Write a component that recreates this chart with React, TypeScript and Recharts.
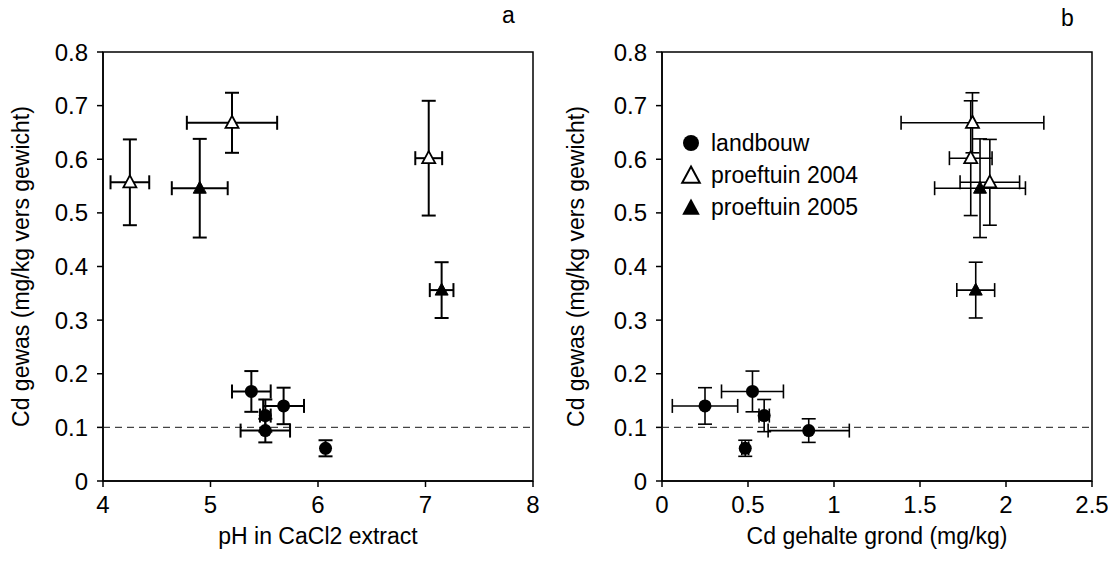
import { ScatterChart, Scatter, XAxis, YAxis, ErrorBar, ReferenceLine, ReferenceArea, Label } from 'recharts';

// panel a: pH in CaCl2 extract
const phLandbouw = [5.38, 5.68, 5.51, 5.51, 6.07];
const phLandbouwErr = [0.18, 0.19, 0.05, 0.23, 0];
const phP2004 = [4.25, 5.2, 7.03];
const phP2004Err = [0.18, 0.42, 0.125];
const phP2005 = [4.9, 7.15];
const phP2005Err = [0.26, 0.11];

// panel b: Cd gehalte grond (same crop values, same order)
const gdLandbouw = [0.526, 0.25, 0.594, 0.853, 0.484];
const gdLandbouwErr = [0.18, 0.19, 0.03, 0.236, 0.02];
const gdP2004 = [1.906, 1.805, 1.795];
const gdP2004Err = [0.173, 0.415, 0.124];
const gdP2005 = [1.849, 1.824];
const gdP2005Err = [0.264, 0.11];

// Cd gewas (y)
const cdLandbouw = [0.167, 0.14, 0.122, 0.094, 0.061];
const cdLandbouwErr = [0.038, 0.034, 0.03, 0.022, 0.015];
const cdP2004 = [0.557, 0.668, 0.602];
const cdP2004Err = [0.08, 0.056, 0.107];
const cdP2005 = [0.546, 0.356];
const cdP2005Err = [0.092, 0.052];

const yTicks = [0, 0.1, 0.2, 0.3, 0.4, 0.5, 0.6, 0.7, 0.8];
const phTicks = [4, 5, 6, 7, 8];
const gdTicks = [0, 0.5, 1, 1.5, 2, 2.5];
const legendNames = ['landbouw', 'proeftuin 2004', 'proeftuin 2005'];

const FONT = '"Liberation Sans", Arial, sans-serif';
const FS = 23;
const TICK_FS = 24;

const build = (xs: number[], xe: number[], ys: number[], ye: number[]) =>
  xs.map((x, i) => ({ x, y: ys[i], ex: xe[i], ey: ye[i] }));

const Dot = (p: any) => <circle cx={p.cx} cy={p.cy} r={6.5} fill="#000" />;
const triPath = (cx: number, cy: number, s = 1) =>
  `M${cx},${cy - 7 * s} L${cx + 6.5 * s},${cy + 5 * s} L${cx - 6.5 * s},${cy + 5 * s} Z`;
const OpenTri = (p: any) => <path d={triPath(p.cx, p.cy)} fill="#fff" stroke="#000" strokeWidth={1.8} />;
const FullTri = (p: any) => <path d={triPath(p.cx, p.cy)} fill="#000" stroke="#000" strokeWidth={1} />;

const yTitle = (cx: number) => (props: any) => {
  const vb = props.viewBox;
  const cy = vb.y + vb.height / 2;
  return (
    <text x={cx} y={cy} transform={`rotate(-90 ${cx} ${cy})`} textAnchor="middle" dominantBaseline="central"
      fontSize={FS} fontFamily={FONT} fill="#000">
      Cd gewas (mg/kg vers gewicht)
    </text>
  );
};

const LegendBox = () => (
  <svg width={200} height={100}>
    <circle cx={15} cy={12} r={8} fill="#000" />
    <text x={35} y={12} dominantBaseline="central" fontSize={FS} fontFamily={FONT}>{legendNames[0]}</text>
    <path d={triPath(15, 45, 1.35)} fill="#fff" stroke="#000" strokeWidth={2} />
    <text x={35} y={44} dominantBaseline="central" fontSize={FS} fontFamily={FONT}>{legendNames[1]}</text>
    <path d={triPath(15, 77, 1.35)} fill="#000" />
    <text x={35} y={76} dominantBaseline="central" fontSize={FS} fontFamily={FONT}>{legendNames[2]}</text>
  </svg>
);

type PanelProps = {
  width: number;
  yAxisWidth: number;
  titleX: number;
  xTicks: number[];
  xDomain: [number, number];
  xTitle: string;
  lb: any[];
  p4: any[];
  p5: any[];
  barWidth: number;
};

const Panel = ({ width, yAxisWidth, titleX, xTicks, xDomain, xTitle, lb, p4, p5, barWidth }: PanelProps) => {
  const series = [
    { name: legendNames[0], data: lb, shape: Dot },
    { name: legendNames[1], data: p4, shape: OpenTri },
    { name: legendNames[2], data: p5, shape: FullTri },
  ];
  return (
    <ScatterChart width={width} height={545} margin={{ top: 44, right: width - yAxisWidth - 430, left: 0, bottom: 0 }}>
      <ReferenceArea x1={xDomain[0]} x2={xDomain[1]} y1={0} y2={0.8} fill="none" stroke="#000" strokeWidth={1.5} />
      <XAxis type="number" dataKey="x" domain={xDomain} ticks={xTicks} interval={0} height={72}
        stroke="#000" strokeWidth={1.5} tickSize={6} tickMargin={9}
        tick={{ fill: '#000', fontSize: TICK_FS, fontFamily: FONT }}>
        <Label value={xTitle} position="insideBottom" offset={9} fill="#000" fontSize={FS} fontFamily={FONT} />
      </XAxis>
      <YAxis type="number" dataKey="y" domain={[0, 0.8]} ticks={yTicks} interval={0} width={yAxisWidth}
        stroke="#000" strokeWidth={1.5} tickSize={6} tickMargin={9}
        tick={{ fill: '#000', fontSize: TICK_FS, fontFamily: FONT }}>
        <Label content={yTitle(titleX)} />
      </YAxis>
      <ReferenceLine y={0.1} stroke="#444" strokeWidth={1.2} strokeDasharray="7 5" />
      {series.map((s) => (
        <Scatter key={s.name} name={s.name} data={s.data} shape={s.shape} isAnimationActive={false}>
          <ErrorBar dataKey="ex" direction="x" width={7} stroke="#000" strokeWidth={barWidth} />
          <ErrorBar dataKey="ey" direction="y" width={7} stroke="#000" strokeWidth={barWidth} />
        </Scatter>
      ))}
    </ScatterChart>
  );
};

export default function App() {
  return (
    <div style={{ position: 'relative', width: 1100, height: 545, fontFamily: FONT, background: '#fff' }}>
      <div style={{ position: 'absolute', left: 0, top: 0 }}>
        <Panel width={545} yAxisWidth={95} titleX={13} xTicks={phTicks} xDomain={[4, 8]} xTitle="pH in CaCl2 extract"
          lb={build(phLandbouw, phLandbouwErr, cdLandbouw, cdLandbouwErr)}
          p4={build(phP2004, phP2004Err, cdP2004, cdP2004Err)}
          p5={build(phP2005, phP2005Err, cdP2005, cdP2005Err)} barWidth={2} />
      </div>
      <div style={{ position: 'absolute', left: 545, top: 0 }}>
        <Panel width={555} yAxisWidth={109} titleX={23} xTicks={gdTicks} xDomain={[0, 2.5]} xTitle="Cd gehalte grond (mg/kg)"
          lb={build(gdLandbouw, gdLandbouwErr, cdLandbouw, cdLandbouwErr)}
          p4={build(gdP2004, gdP2004Err, cdP2004, cdP2004Err)}
          p5={build(gdP2005, gdP2005Err, cdP2005, cdP2005Err)} barWidth={1.6} />
      </div>
      <div style={{ position: 'absolute', left: 668, top: 123 }}>
        <LegendBox />
      </div>
      <div style={{ position: 'absolute', left: 494, top: -4, fontSize: FS, lineHeight: '22px' }}>a</div>
      <div style={{ position: 'absolute', left: 1053, top: -1, fontSize: FS, lineHeight: '22px' }}>b</div>
    </div>
  );
}
